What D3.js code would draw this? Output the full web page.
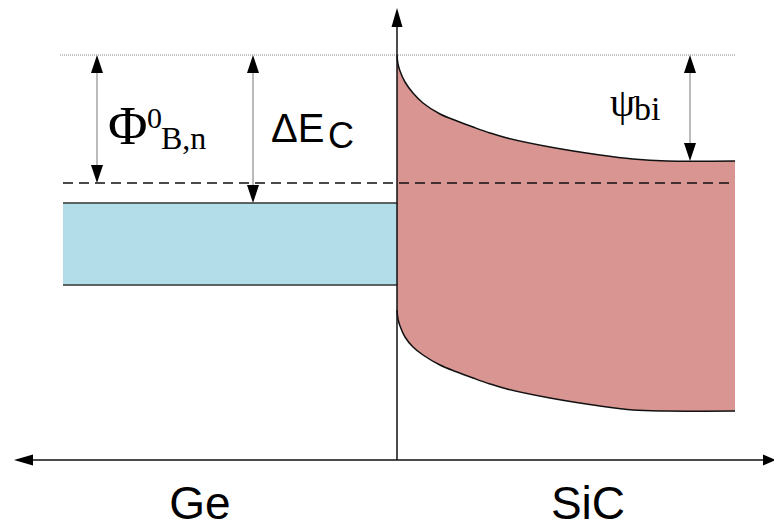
<!DOCTYPE html>
<html>
<head>
<meta charset="utf-8">
<script src="https://cdn.jsdelivr.net/npm/d3@7"></script>
<style>
  body { margin: 0; background: #fff; }
  svg { display: block; }
</style>
</head>
<body>
<div id="chart"></div>
<script>
// band diagram Ge / SiC heterojunction
// x = position from the junction, y = depth below the reference level
var W = 774, H = 529;

var geBand = { x0: -334, x1: 0, top: 148, bottom: 230 };
var fermiDepth = 128;
var refDepth = 0;
var axisDepth = 405;

// SiC conduction band edge
var sicTop = [[0,0],[1,9],[3,16],[8,27],[16,38],[26,48],[43,59],[60,66],[76,72],[93,78],
              [110,83],[153,92],[203,100],[236,104],[270,106],[338,106]];
// SiC valence band edge
var sicBottom = [[0,255],[1,264],[3,271],[8,282],[16,292],[26,300],[43,310],[60,317],[76,323],
                 [93,329],[110,334],[153,343],[203,351],[236,355],[270,356],[338,356]];

var labels = ['Ge', 'SiC'];

var x = d3.scaleLinear().domain([-334, 338]).range([63, 735]);
var y = d3.scaleLinear().domain([0, 405]).range([55, 460]);

var svg = d3.select('#chart').append('svg').attr('width', W).attr('height', H);

// Ge band
svg.append('rect')
  .attr('x', x(geBand.x0)).attr('y', y(geBand.top))
  .attr('width', x(geBand.x1) - x(geBand.x0))
  .attr('height', y(geBand.bottom) - y(geBand.top))
  .attr('fill', '#b3dde9');
[geBand.top, geBand.bottom].forEach(function(d){
  svg.append('line')
    .attr('x1', x(geBand.x0)).attr('x2', x(geBand.x1))
    .attr('y1', y(d)).attr('y2', y(d))
    .attr('stroke', '#333').attr('stroke-width', 1.5);
});

// SiC band
var curve = d3.curveCatmullRom.alpha(0.5);
var area = d3.area()
  .x(function(d){ return x(d[0]); })
  .y1(function(d){ return y(d[1]); })
  .y0(function(d, i){ return y(sicBottom[i][1]); })
  .curve(curve);
svg.append('path').datum(sicTop).attr('d', area).attr('fill', '#d89591');

var line = d3.line().x(function(d){ return x(d[0]); }).y(function(d){ return y(d[1]); })
  .curve(curve);
[sicTop, sicBottom].forEach(function(s){
  svg.append('path').datum(s).attr('d', line)
    .attr('fill', 'none').attr('stroke', '#111').attr('stroke-width', 1.5);
});

// reference level (dotted) and Fermi level (dashed)
svg.append('line')
  .attr('x1', x(-337)).attr('x2', x(338))
  .attr('y1', y(refDepth)).attr('y2', y(refDepth))
  .attr('stroke', '#888').attr('stroke-width', 1).attr('stroke-dasharray', '1,1');
svg.append('line')
  .attr('x1', x(-334)).attr('x2', x(338))
  .attr('y1', y(fermiDepth)).attr('y2', y(fermiDepth))
  .attr('stroke', '#111').attr('stroke-width', 1.3).attr('stroke-dasharray', '10,6');

// axes
var axisY = y(axisDepth), axisX = x(0);
svg.append('line').attr('x1', 24).attr('x2', 766).attr('y1', axisY).attr('y2', axisY)
  .attr('stroke', '#111').attr('stroke-width', 1.5);
svg.append('line').attr('x1', axisX).attr('x2', axisX).attr('y1', axisY).attr('y2', 18)
  .attr('stroke', '#111').attr('stroke-width', 1.5);

function head(px, py, dir, len, half){
  // tip at (px,py)
  var p;
  if (dir == 'up') p = [[px,py],[px-half,py+len],[px+half,py+len]];
  if (dir == 'down') p = [[px,py],[px-half,py-len],[px+half,py-len]];
  if (dir == 'left') p = [[px,py],[px+len,py-half],[px+len,py+half]];
  if (dir == 'right') p = [[px,py],[px-len,py-half],[px-len,py+half]];
  svg.append('path').attr('d', 'M' + p.join('L') + 'Z').attr('fill', '#000');
}
head(axisX, 8, 'up', 19, 5.5);
head(14, axisY, 'left', 19, 5.5);
head(776, axisY, 'right', 13, 5.5);

// double arrows
function dbl(px, d0, d1){
  svg.append('line').attr('x1', px).attr('x2', px).attr('y1', y(d0) + 5).attr('y2', y(d1) - 5)
    .attr('stroke', '#777').attr('stroke-width', 1);
  head(px, y(d0), 'up', 18, 6);
  head(px, y(d1), 'down', 18, 6);
}
dbl(x(-300), refDepth, fermiDepth);
dbl(x(-144), refDepth, geBand.top);
dbl(x(293), refDepth, sicTop[sicTop.length - 1][1]);

// labels
var serif = '"Liberation Serif", "Times New Roman", serif';
var sans = '"Liberation Sans", Arial, sans-serif';
svg.append('text').attr('x', 108).attr('y', 144).attr('font-family', serif)
  .attr('font-size', 54).text('Φ');
svg.append('text').attr('x', 147).attr('y', 128).attr('font-family', serif)
  .attr('font-size', 30).text('0');
svg.append('text').attr('x', 161).attr('y', 149).attr('font-family', serif)
  .attr('font-size', 32).text('B,n');

svg.append('text').attr('x', 271).attr('y', 142).attr('font-family', sans)
  .attr('font-size', 40).text('ΔE');
svg.append('text').attr('x', 328).attr('y', 148).attr('font-family', sans)
  .attr('font-size', 36).text('C');

svg.append('text').attr('x', 610).attr('y', 116).attr('font-family', serif)
  .attr('font-size', 40).text('ψ');
svg.append('text').attr('x', 634).attr('y', 120).attr('font-family', serif)
  .attr('font-size', 34).text('bi');

svg.selectAll('.side').data(labels).enter().append('text')
  .attr('class', 'side')
  .attr('x', function(d, i){ return i == 0 ? 200 : 588; })
  .attr('y', 519).attr('text-anchor', 'middle')
  .attr('font-family', sans).attr('font-size', 46)
  .text(function(d){ return d; });
</script>
</body>
</html>
